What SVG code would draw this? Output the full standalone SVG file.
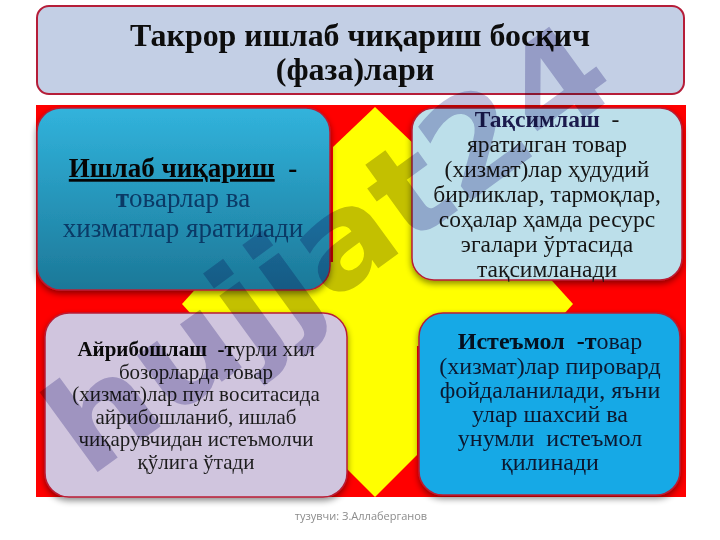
<svg xmlns="http://www.w3.org/2000/svg" width="720" height="540" viewBox="0 0 720 540">
  <defs>
    <linearGradient id="gTeal" x1="0" y1="0" x2="0" y2="1">
      <stop offset="0" stop-color="#31b3dc"/>
      <stop offset="1" stop-color="#1c7898"/>
    </linearGradient>
    <filter id="sh" x="-10%" y="-10%" width="120%" height="125%">
      <feDropShadow dx="0" dy="3" stdDeviation="3" flood-color="#000" flood-opacity="0.45"/>
    </filter>
    <style>
      .box { stroke: #b81e36; stroke-width: 1.5; filter: url(#sh); }
      .serif { font-family: "Liberation Serif", "DejaVu Serif", serif; text-anchor: middle; }
      .b { font-weight: bold; }
      .wm { font-family: "DejaVu Sans", "Liberation Sans", sans-serif; font-weight: bold; fill: #9a96c6; opacity: 0.6; mix-blend-mode: multiply; }
    </style>
  </defs>
  <rect width="720" height="540" fill="#ffffff"/>

  <!-- background -->
  <g id="background">
    <rect x="36" y="105" width="650" height="392" fill="#ff0000"/>
    <polygon points="375,107 333,147 333,455 375,497 417,455 417,147" fill="#ffff00"/>
    <polygon points="182,304 220,262 535,262 573,304 535,346 220,346" fill="#ffff00"/>
  </g>

  <!-- title -->
  <g id="title">
    <rect x="37" y="6" width="647" height="88" rx="12" fill="#c3cfe5" stroke="#b51d38" stroke-width="2"/>
    <text class="serif b" x="360" y="46" font-size="32" fill="#0d0d0d" textLength="460" lengthAdjust="spacingAndGlyphs">Такрор ишлаб чиқариш босқич</text>
    <text class="serif b" x="355" y="80" font-size="32" fill="#0d0d0d">(фаза)лари</text>
  </g>

  <g id="production">
    <rect class="box" x="37" y="108" width="293" height="182" rx="24" fill="url(#gTeal)"/>
    <text class="serif" x="183" y="177" font-size="27"><tspan class="b" fill="#050505" text-decoration="underline">Ишлаб чиқариш</tspan><tspan class="b" fill="#050505">&#160; -</tspan></text>
    <text class="serif" x="183" y="207" font-size="27" fill="#0b3a66"><tspan class="b">т</tspan>оварлар ва</text>
    <text class="serif" x="183" y="237" font-size="27" fill="#0b3a66">хизматлар яратилади</text>
  </g>

  <g id="distribution">
    <rect class="box" x="412" y="108" width="270" height="172" rx="22" fill="#bcdfea"/>
    <g class="serif" font-size="23.5" fill="#161616">
      <text x="547" y="127"><tspan class="b" fill="#1b1b4d">Тақсимлаш</tspan>&#160; -</text>
      <text x="547" y="152">яратилган товар</text>
      <text x="547" y="177">(хизмат)лар ҳудудий</text>
      <text x="547" y="202">бирликлар, тармоқлар,</text>
      <text x="547" y="227">соҳалар ҳамда ресурс</text>
      <text x="547" y="252">эгалари ўртасида</text>
      <text x="547" y="277">тақсимланади</text>
    </g>
  </g>

  <g id="exchange">
    <rect class="box" x="45" y="313" width="302" height="184" rx="24" fill="#d0c5de"/>
    <g class="serif" font-size="21" fill="#1c1c1c">
      <text x="196" y="356"><tspan class="b" fill="#0a0a0a">Айрибошлаш&#160; -т</tspan>урли хил</text>
      <text x="196" y="379">бозорларда товар</text>
      <text x="196" y="401">(хизмат)лар пул воситасида</text>
      <text x="196" y="424">айрибошланиб, ишлаб</text>
      <text x="196" y="446">чиқарувчидан истеъмолчи</text>
      <text x="196" y="469">қўлига ўтади</text>
    </g>
  </g>

  <g id="consumption">
    <rect class="box" x="419" y="313" width="261" height="182" rx="24" fill="#16a9e6"/>
    <g class="serif" font-size="24" fill="#0c1830">
      <text x="550" y="349"><tspan class="b" fill="#05101f">Истеъмол&#160; -т</tspan>овар</text>
      <text x="550" y="374">(хизмат)лар пировард</text>
      <text x="550" y="398">фойдаланилади, яъни</text>
      <text x="550" y="422">улар шахсий ва</text>
      <text x="550" y="446">унумли&#160; истеъмол</text>
      <text x="550" y="470">қилинади</text>
    </g>
  </g>

  <g id="connectors"></g>

  <!-- watermark -->
  <text class="wm" x="355" y="285" font-size="130" text-anchor="middle" transform="rotate(-36 355 285)" textLength="660" lengthAdjust="spacingAndGlyphs">hujjat24</text>

  <text x="361" y="520" font-family="'Open Sans', 'Noto Sans', sans-serif" font-size="11" fill="#8c8c8c" text-anchor="middle">тузувчи: З.Аллаберганов</text>
</svg>
